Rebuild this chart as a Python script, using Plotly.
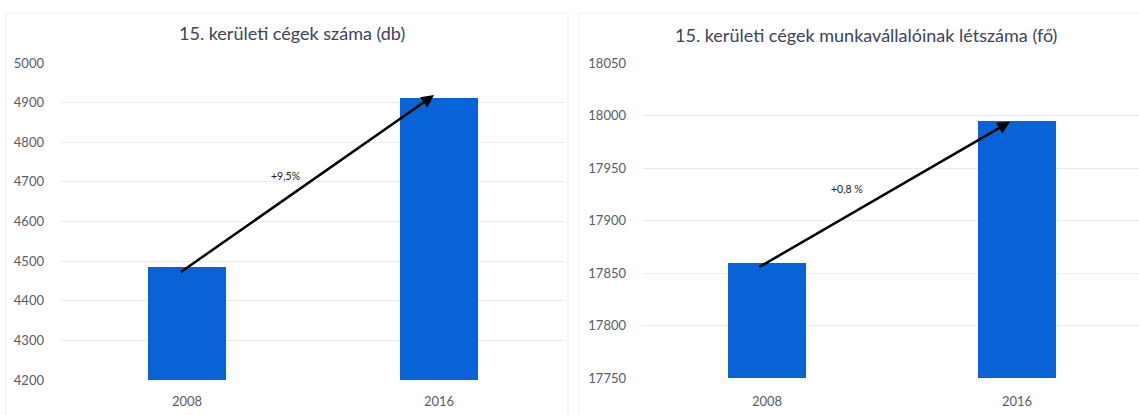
import plotly.graph_objects as go

# Company counts and employee headcount, district XV
years = ["2008", "2016"]
companies = [4485, 4911]
employees = [17860, 17995]
companies_change = "+9,5%"
employees_change = "+0,8 %"

left_title = "15. kerületi cégek száma (db)"
right_title = "15. kerületi cégek munkavállalóinak létszáma (fő)"

W, H = 1139, 415
FONT = "Lato, 'Open Sans', sans-serif"
BAR = "#0763d6"
TICK = "#5b5b66"
TITLE = "#42425a"
GRID = "#ececec"

fig = go.Figure()
fig.add_trace(go.Bar(x=[0, 1], y=companies, width=0.31, marker_color=BAR,
                     marker_line_width=0, xaxis="x", yaxis="y", showlegend=False))
fig.add_trace(go.Bar(x=[0, 1], y=employees, width=0.31, marker_color=BAR,
                     marker_line_width=0, xaxis="x2", yaxis="y2", showlegend=False))

def px_x(p):
    return p / W

def px_y(p):
    return (H - p) / H

axis_common = dict(showline=False, zeroline=False, ticks="", automargin=False,
                   tickfont=dict(family=FONT, size=13, color=TICK))

fig.update_layout(
    width=W, height=H, margin=dict(l=0, r=0, t=0, b=0),
    paper_bgcolor="white", plot_bgcolor="white",
    font=dict(family=FONT),
    xaxis=dict(domain=[px_x(61), px_x(565)], range=[-0.5, 1.5],
               tickvals=[0, 1], ticktext=years, showgrid=False,
               ticklabelstandoff=12, **axis_common),
    yaxis=dict(domain=[px_y(380), px_y(63)], range=[4200, 5000], dtick=100,
               tickformat="d", showgrid=True, gridcolor=GRID, gridwidth=1,
               ticklabelstandoff=16, **axis_common),
    xaxis2=dict(domain=[px_x(642), 1], range=[-0.5, 1.488],
                tickvals=[0, 1], ticktext=years, showgrid=False,
                ticklabelstandoff=14, anchor="y2", **axis_common),
    yaxis2=dict(domain=[px_y(378), px_y(63)], range=[17750, 18050], dtick=50,
                tickformat="d", showgrid=True, gridcolor=GRID, gridwidth=1,
                ticklabelstandoff=15, anchor="x2", **axis_common),
    bargap=0,
)

# Panel titles
fig.add_annotation(text=left_title, xref="paper", yref="paper",
                   x=px_x(292), y=px_y(33), xanchor="center", yanchor="middle",
                   showarrow=False, font=dict(family=FONT, size=18, color=TITLE))
fig.add_annotation(text=right_title, xref="paper", yref="paper",
                   x=px_x(866), y=px_y(35), xanchor="center", yanchor="middle",
                   showarrow=False, font=dict(family=FONT, size=18, color=TITLE))

# Growth arrows from the 2008 bar to the 2016 bar
fig.add_annotation(x=0.98, y=companies[1] + 8, ax=-0.03, ay=companies[0] - 15,
                   xref="x", yref="y", axref="x", ayref="y", text="",
                   showarrow=True, arrowhead=2, arrowsize=1, arrowwidth=2.5,
                   arrowcolor="black")
fig.add_annotation(x=0.972, y=employees[1] - 1, ax=-0.036, ay=employees[0] - 5,
                   xref="x2", yref="y2", axref="x2", ayref="y2", text="",
                   showarrow=True, arrowhead=2, arrowsize=1, arrowwidth=2.5,
                   arrowcolor="black")

fig.add_annotation(text=companies_change, x=0.39, y=4715, xref="x", yref="y",
                   showarrow=False, font=dict(family=FONT, size=10.5, color="#222"))
fig.add_annotation(text=employees_change, x=0.32, y=17930, xref="x2", yref="y2",
                   showarrow=False, font=dict(family=FONT, size=10.5, color="#222"))

# Faint panel frames
fig.add_shape(type="rect", xref="paper", yref="paper",
              x0=px_x(6), x1=px_x(568), y0=px_y(430), y1=px_y(13),
              line=dict(color="#eeeeee", width=1), layer="below")
fig.add_shape(type="rect", xref="paper", yref="paper",
              x0=px_x(579), x1=px_x(1150), y0=px_y(430), y1=px_y(13),
              line=dict(color="#eeeeee", width=1), layer="below")

fig.write_html("out.html")
